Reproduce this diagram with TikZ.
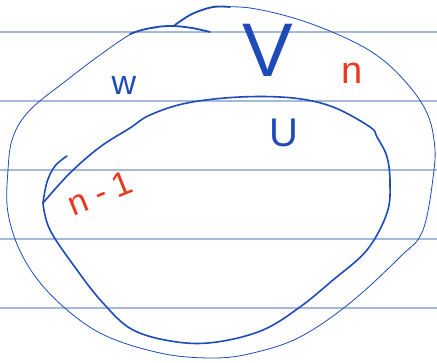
\documentclass[tikz,border=0pt]{standalone}
\usepackage{fontspec}
\setmainfont{Liberation Sans}
\definecolor{penblue}{RGB}{30,75,185}
\definecolor{penred}{RGB}{235,55,30}
\definecolor{ruleblue}{RGB}{165,185,220}
\begin{document}
\begin{tikzpicture}[x=1pt, y=-1pt, line cap=round, line join=round]
  \useasboundingbox (0,0) rectangle (437,363);
  \fill[fill=white] (0,0) rectangle (437,363);
  \draw[ruleblue, line width=1.1pt] (0,32) -- (437,32);
  \draw[ruleblue, line width=1.1pt] (0,101) -- (437,101);
  \draw[ruleblue, line width=1.1pt] (0,170) -- (437,170);
  \draw[ruleblue, line width=1.1pt] (0,239) -- (437,239);
  \draw[ruleblue, line width=1.1pt] (0,308) -- (437,308);
  % outer set
  \draw[penblue, line width=0.8pt] plot[smooth, tension=0.6] coordinates {
    (213,7) (250,8) (300,20) (350,40) (383,60) (410,87) (427,113) (434,140)
    (434,170) (423,230) (400,257) (350,303) (300,337) (253,353) (213,358)
    (160,353) (100,333) (53,297) (23,257) (8,213) (8,170) (13,137) (30,110)
    (67,80) (100,55) (133,33) (155,28)};
  \draw[penblue, line width=1.8pt] plot[smooth, tension=0.6] coordinates {
    (130,34) (142,30) (157,27) (173,26) (192,28) (210,32)};
  \draw[penblue, line width=1.8pt] plot[smooth, tension=0.6] coordinates {
    (175,25) (192,14) (213,7) (230,7)};
  % inner set
  \draw[penblue, line width=1.6pt] plot[smooth, tension=0.6] coordinates {
    (67,156) (55,166) (47,182) (43,203)};
  \draw[penblue, line width=1.6pt] plot[smooth, tension=0.6] coordinates {
    (43,203) (50,230) (77,270) (103,303) (133,330) (177,342) (217,342)
    (263,330) (300,307) (333,280) (367,250) (387,213) (390,183) (387,157)
    (377,137) (370,127) (333,107) (293,98) (240,97) (187,103) (150,115)
    (130,128) (100,147) (70,173) (43,203)};
  % labels
  \node[penblue, font=\fontsize{76}{76}\selectfont, inner sep=0pt] (labV) at (268,50) {V};
  \node[penblue, font=\fontsize{34}{34}\selectfont, inner sep=0pt] (labW) at (124,86) {w};
  \node[penred, font=\fontsize{38}{38}\selectfont, inner sep=0pt] (labN) at (352,73) {n};
  \node[penblue, font=\fontsize{40}{40}\selectfont, inner sep=0pt] (labU) at (284,133) {U};
  \node[penred, font=\fontsize{34}{34}\selectfont\addfontfeature{LetterSpace=25}, inner sep=0pt, rotate=22] (labNm) at (100,193) {n-1};
\end{tikzpicture}
\end{document}
